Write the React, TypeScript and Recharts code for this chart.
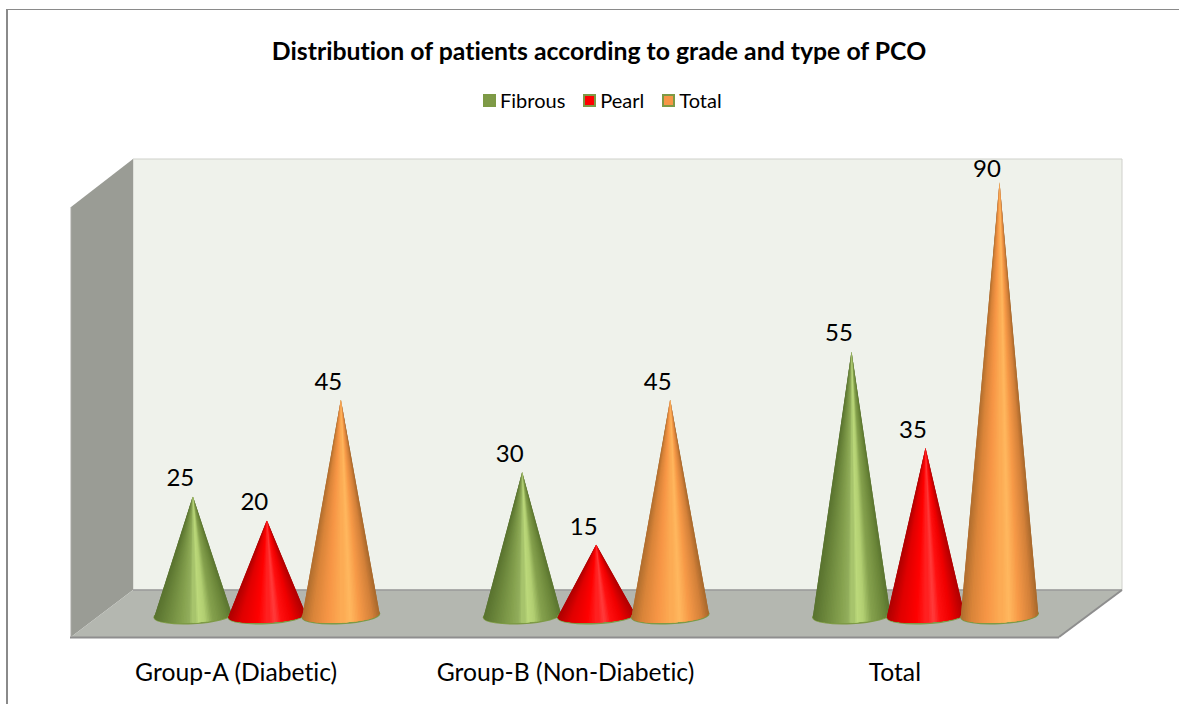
import { Bar, BarChart, LabelList, Legend, XAxis, YAxis } from 'recharts';

const categories = ['Group-A (Diabetic)', 'Group-B (Non-Diabetic)', 'Total'];
const fibrous = [25, 30, 55];
const pearl = [20, 15, 35];
const total = [45, 45, 90];

const chartData = categories.map((name, i) => ({
  name,
  Fibrous: fibrous[i],
  Pearl: pearl[i],
  Total: total[i],
}));

const FONT = 'Lato, sans-serif';
const RIM = '#7d9a45';

const seriesColors: Record<string, string> = {
  Fibrous: '#7f9a48',
  Pearl: '#ff0000',
  Total: '#f79646',
};

type Stop = [number, number[]];

const greenShade: Stop[] = [
  [0, [86, 112, 45]],
  [20, [111, 138, 62]],
  [38, [134, 162, 79]],
  [47, [146, 174, 92]],
  [55, [188, 217, 123]],
  [63, [178, 207, 114]],
  [73, [134, 162, 78]],
  [90, [107, 134, 57]],
  [100, [86, 112, 45]],
];
const redShade: Stop[] = [
  [0, [168, 0, 0]],
  [18, [224, 0, 0]],
  [40, [255, 0, 0]],
  [50, [255, 28, 28]],
  [58, [255, 60, 60]],
  [66, [255, 16, 16]],
  [80, [240, 0, 0]],
  [100, [168, 0, 0]],
];
const orangeShade: Stop[] = [
  [0, [169, 106, 44]],
  [15, [217, 132, 57]],
  [35, [247, 150, 70]],
  [48, [251, 166, 80]],
  [60, [255, 184, 95]],
  [72, [247, 154, 72]],
  [88, [212, 129, 58]],
  [100, [158, 99, 41]],
];

function shadeAt(stops: Stop[], pct: number) {
  for (let i = 1; i < stops.length; i++) {
    const [p0, c0] = stops[i - 1];
    const [p1, c1] = stops[i];
    if (pct <= p1) {
      const t = (pct - p0) / (p1 - p0);
      return `rgb(${c0.map((c, k) => Math.round(c + (c1[k] - c) * t)).join(',')})`;
    }
  }
  return `rgb(${stops[stops.length - 1][1].join(',')})`;
}

// cone is fanned out from the apex so the shading converges at the tip.
// slices overlap and are painted from the edges inwards to hide the seams
function Cone(props: any) {
  const { x, y, width, height, stops } = props;
  const cx = x + width / 2;
  const rx = width / 2 + 1.8;
  const ry = 8;
  const cy = y + height - 1.5;
  const rot = (-3 * Math.PI) / 180;
  const slices = 48;
  const basePoint = (i: number) => {
    // even steps along the width, not along the angle
    const ex = rx * (-1 + (2 * i) / slices);
    const ey = (ry - 0.8) * Math.sqrt(Math.max(0, 1 - (ex / rx) ** 2));
    return [cx + ex * Math.cos(rot) - ey * Math.sin(rot), cy + ex * Math.sin(rot) + ey * Math.cos(rot)];
  };
  const order = Array.from({ length: slices }, (_, i) => i).sort(
    (a, b) => Math.abs(b - slices * 0.5) - Math.abs(a - slices * 0.5),
  );
  const parts = order.map((i) => {
    const points = [];
    for (let k = Math.max(0, i - 1); k <= Math.min(slices, i + 2); k++) {
      const p = basePoint(k);
      points.push(`${p[0]},${p[1]}`);
    }
    const color = shadeAt(stops, ((i + 0.5) / slices) * 100);
    return <polygon key={i} points={`${cx},${y} ${points.join(' ')}`} fill={color} />;
  });
  return (
    <g>
      <ellipse
        cx={cx}
        cy={cy}
        rx={rx}
        ry={ry}
        transform={`rotate(-3 ${cx} ${cy})`}
        fill={RIM}
        stroke={RIM}
        strokeWidth={1.5}
      />
      {parts}
    </g>
  );
}

function ValueLabel(props: any) {
  const { x, y, width, value } = props;
  return (
    <text
      x={x + width / 2 - 12.5}
      y={Math.max(y - 19.5, 167)}
      textAnchor="middle"
      dominantBaseline="central"
      fontFamily={FONT}
      fontSize={24}
      fill="#000"
    >
      {value}
    </text>
  );
}

function CategoryTick(props: any) {
  const { x, payload } = props;
  return (
    <text
      x={x - 30}
      y={671}
      textAnchor="middle"
      dominantBaseline="central"
      fontFamily={FONT}
      fontSize={24.7}
      style={{ fontVariantLigatures: 'none' }}
      fill="#000"
    >
      {payload.value}
    </text>
  );
}

function LegendContent() {
  return (
    <div style={{ display: 'flex', fontFamily: FONT, fontSize: 20, color: '#000', lineHeight: '24px' }}>
      {Object.keys(seriesColors).map((name) => (
        <div key={name} style={{ display: 'flex', alignItems: 'center', marginRight: 18 }}>
          <span
            style={{
              width: 9,
              height: 9,
              background: seriesColors[name],
              border: `2px solid ${RIM}`,
              marginRight: 4,
            }}
          />
          {name}
        </div>
      ))}
    </div>
  );
}

export default function App() {
  return (
    <div style={{ position: 'absolute', left: 0, top: 0, width: 1179, height: 704, background: '#fff' }}>
      <div
        style={{
          position: 'absolute',
          left: 6,
          top: 9,
          right: 0,
          bottom: 0,
          borderLeft: '2px solid #8a8a8a',
          borderTop: '1px solid #8a8a8a',
        }}
      />
      <BarChart
        width={1179}
        height={704}
        data={chartData}
        margin={{ top: 158, right: 89.5, bottom: 57, left: 101.5 }}
        barCategoryGap="16.5%"
        barGap={0}
        style={{ position: 'absolute', left: 0, top: 0 }}
      >
        <polygon points="133,159 1122,159 1122,590 133,590" fill="#eff2eb" stroke="#cfd0cb" />
        <polygon points="71,207 133,159 133,590 71,637" fill="#9a9c95" />
        <polygon points="133,590 1122,590 1059,637 71,637" fill="#b4b7b0" />
        <line x1={133} y1={590} x2={1122} y2={590} stroke="#9a9a9a" strokeWidth={1.5} />
        <line x1={70} y1={637.5} x2={1059} y2={637.5} stroke="#8e8e8e" strokeWidth={2} />
        <line x1={1059} y1={637} x2={1122} y2={590} stroke="#8e8e8e" strokeWidth={2} />
        <line x1={71} y1={207} x2={71} y2={637} stroke="#a8a8a4" />

        <text
          x={599}
          y={50}
          textAnchor="middle"
          dominantBaseline="central"
          fontFamily={FONT}
          fontSize={24.8}
          fontWeight={700}
          style={{ fontVariantLigatures: 'none' }}
          fill="#000"
        >
          Distribution of patients according to grade and type of PCO
        </text>

        <XAxis dataKey="name" axisLine={false} tickLine={false} height={30} tick={CategoryTick} interval={0} />
        <YAxis hide domain={[0, 90]} />
        <Legend
          verticalAlign="top"
          content={LegendContent}
          wrapperStyle={{ position: 'absolute', left: 483, top: 88, width: 'auto' }}
        />
        <Bar
          dataKey="Fibrous"
          fill={seriesColors.Fibrous}
          shape={(p: any) => <Cone {...p} stops={greenShade} />}
          isAnimationActive={false}
        >
          <LabelList dataKey="Fibrous" content={ValueLabel} />
        </Bar>
        <Bar
          dataKey="Pearl"
          fill={seriesColors.Pearl}
          shape={(p: any) => <Cone {...p} stops={redShade} />}
          isAnimationActive={false}
        >
          <LabelList dataKey="Pearl" content={ValueLabel} />
        </Bar>
        <Bar
          dataKey="Total"
          fill={seriesColors.Total}
          shape={(p: any) => <Cone {...p} stops={orangeShade} />}
          isAnimationActive={false}
        >
          <LabelList dataKey="Total" content={ValueLabel} />
        </Bar>
      </BarChart>
    </div>
  );
}
